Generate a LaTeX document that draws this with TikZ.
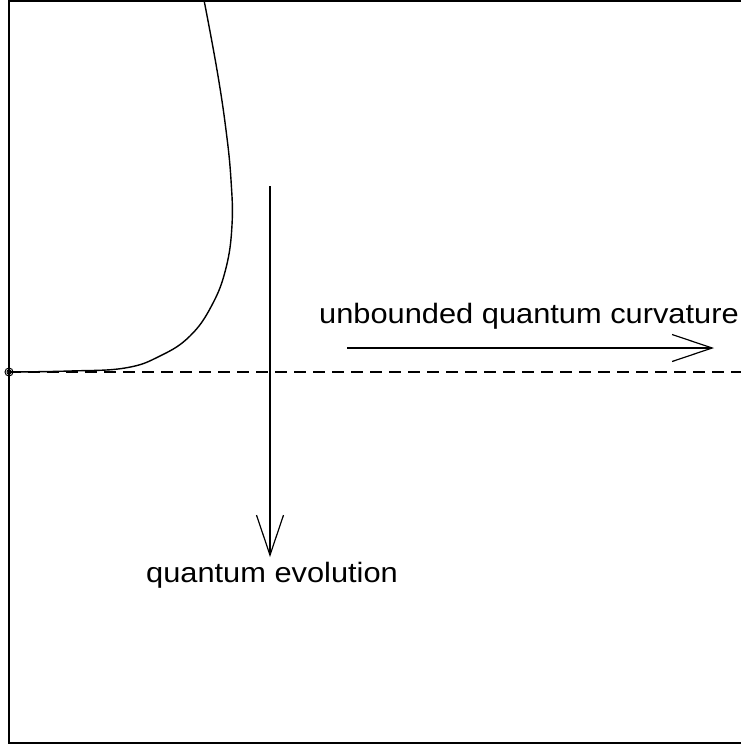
\documentclass[tikz,border=0pt]{standalone}
\usepackage{fontspec}
\setmainfont{Liberation Sans}
\usetikzlibrary{arrows.meta}

\begin{document}
\begin{tikzpicture}[x=1pt, y=-1pt, >={Straight Barb[length=40pt,width=27pt]},
  lbl/.style={inner sep=0pt, anchor=base, xscale=1.1, font=\fontsize{28}{30}\selectfont}]
  \useasboundingbox (0,0) rectangle (741,745);
  % Frame
  \draw[line width=1.2pt] (745,1) -- (9,1) -- (9,743) -- (745,743);

  % Origin and dashed level
  \coordinate (O) at (9,372);
  \coordinate (R) at (741,372);
  \draw[line width=1.2pt, dash pattern=on 12pt off 7pt] (O) -- (R);
  \draw[line width=1pt] (O) circle (4pt);
  \draw[line width=1pt] (O) circle (2pt);

  % Curve
  \draw[line width=1.4pt] plot[smooth, tension=0.7] coordinates {
    (9,372) (70,371) (125,368) (160,356) (190,336) (212,305)
    (226,268) (232,225) (231,180) (226,130) (217,70) (204,0)};

  % Arrows and labels
  \coordinate (evtop) at (270,186);
  \coordinate (evbot) at (270,557);
  \draw[->, line width=1.2pt] (evtop) -- (evbot);
  \node[lbl] (evo) at (272,582) {quantum evolution};

  \coordinate (cvleft) at (347,348);
  \coordinate (cvright) at (714,348);
  \draw[->, line width=1.2pt] (cvleft) -- (cvright);
  \node[lbl] (curv) at (529,323) {unbounded quantum curvature};
\end{tikzpicture}
\end{document}
